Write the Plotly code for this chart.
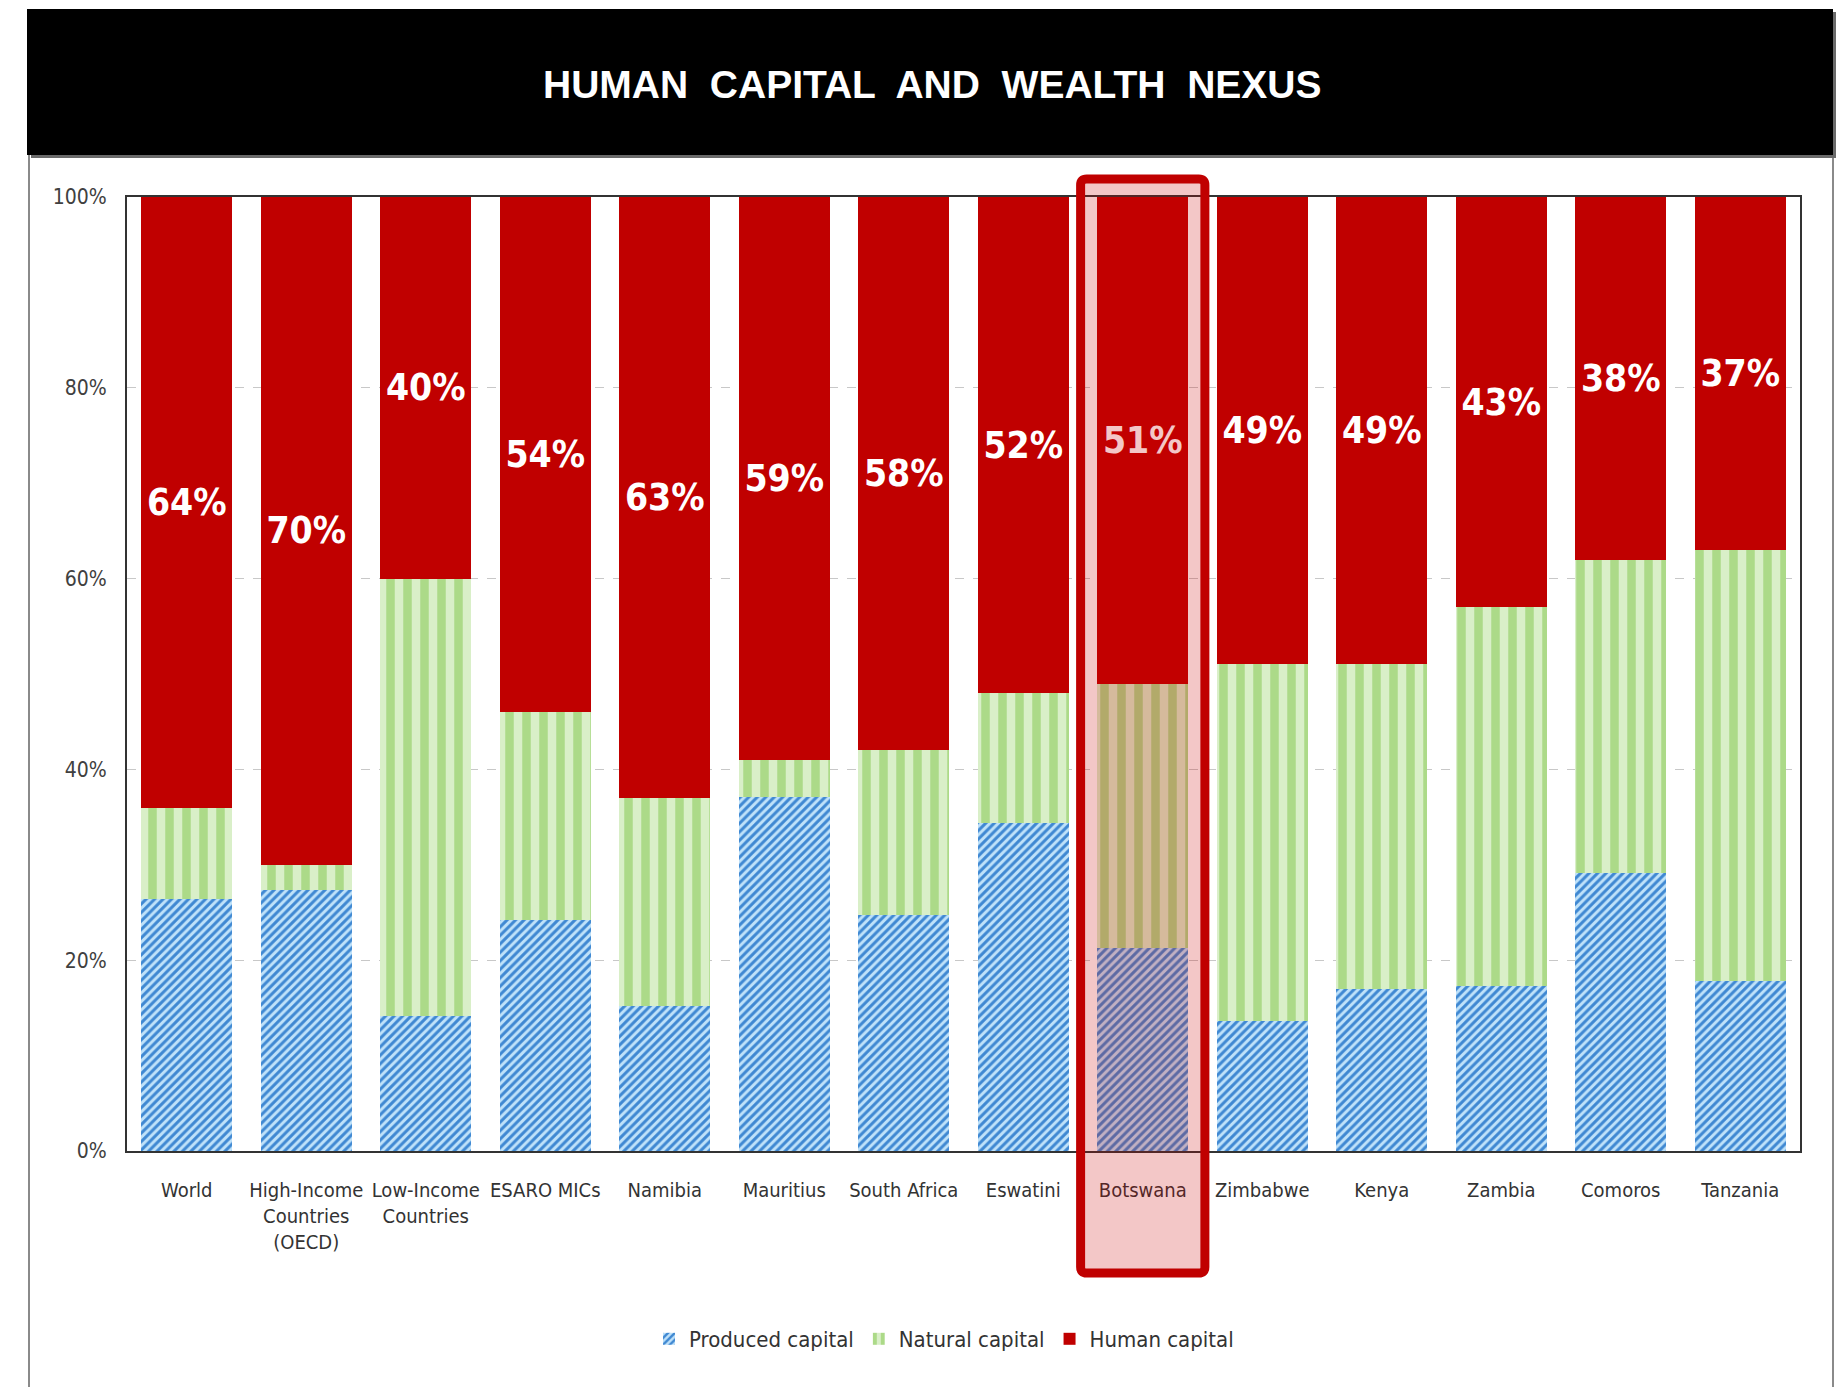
import plotly.graph_objects as go

# Share of total wealth by capital type (%)
categories = [
    "World", "High-Income<br>Countries<br>(OECD)", "Low-Income<br>Countries",
    "ESARO MICs", "Namibia", "Mauritius", "South Africa", "Eswatini",
    "Botswana", "Zimbabwe", "Kenya", "Zambia", "Comoros", "Tanzania",
]
produced_capital = [26.4, 27.4, 14.2, 24.2, 15.2, 37.1, 24.7, 34.4, 21.3, 13.6, 17.0, 17.3, 29.1, 17.8]
natural_capital = [9.6, 2.6, 45.8, 21.8, 21.8, 3.9, 17.3, 13.6, 27.7, 37.4, 34.0, 39.7, 32.9, 45.2]
human_capital = [64, 70, 40, 54, 63, 59, 58, 52, 51, 49, 49, 43, 38, 37]
y_ticks = [0, 20, 40, 60, 80, 100]
y_tick_labels = ["0%", "20%", "40%", "60%", "80%", "100%"]
highlight = "Botswana"

NARROW = "Liberation Sans Narrow, Arial Narrow, DejaVu Sans Condensed, sans-serif"
RED = "#C00000"

fig = go.Figure()
fig.add_trace(go.Bar(
    name="Produced capital", x=categories, y=produced_capital,
    marker=dict(color="#bfe2fa", line=dict(width=0),
                pattern=dict(shape="/", fgcolor="#3f88d2", bgcolor="#bfe2fa",
                             size=6, solidity=0.5, fillmode="replace")),
))
fig.add_trace(go.Bar(
    name="Natural capital", x=categories, y=natural_capital,
    marker=dict(color="#d7eec4", line=dict(width=0),
                pattern=dict(shape="|", fgcolor="#acda88", bgcolor="#d9efc8",
                             size=17, solidity=0.5, fillmode="replace")),
))
fig.add_trace(go.Bar(
    name="Human capital", x=categories, y=human_capital,
    marker=dict(color=RED, line=dict(width=0)),
    text=[f"{v}%" for v in human_capital],
    textposition="inside", insidetextanchor="middle", textangle=0,
    constraintext="none",
    textfont=dict(family=NARROW, size=37, color="white", weight="bold"),
))

# Plot-area geometry in pixels (used to place decorations in paper units)
W, H = 1845, 1387
ML, MR, MT, MB = 127, 45, 197, 236
pw, ph = W - ML - MR, H - MT - MB


def px(x):
    return (x - ML) / pw


def py(y):
    return (H - MB - y) / ph


shapes = []
# Outer frame sides
shapes.append(dict(type="line", xref="paper", yref="paper", x0=px(29), x1=px(29),
                   y0=py(150), y1=py(H + 5), line=dict(color="#8a8a8a", width=2)))
shapes.append(dict(type="line", xref="paper", yref="paper", x0=px(1833), x1=px(1833),
                   y0=py(150), y1=py(H + 5), line=dict(color="#8a8a8a", width=2)))
# Title banner
shapes.append(dict(type="rect", xref="paper", yref="paper", x0=px(31), x1=px(1836),
                   y0=py(12), y1=py(158), fillcolor="#6a6a6a", line=dict(width=0)))
shapes.append(dict(type="rect", xref="paper", yref="paper", x0=px(27), x1=px(1833),
                   y0=py(9), y1=py(155), fillcolor="black", line=dict(width=0)))

# Highlight box around one category, with rounded corners
n = len(categories)
i = categories.index(highlight)
hx0 = (i - 0.02) / n
hx1 = (i + 1.02) / n
hy0, hy1 = py(1273), py(179)
rx, ry = 6 / pw, 6 / ph
path = (f"M {hx0 + rx},{hy1} L {hx1 - rx},{hy1} Q {hx1},{hy1} {hx1},{hy1 - ry} "
        f"L {hx1},{hy0 + ry} Q {hx1},{hy0} {hx1 - rx},{hy0} "
        f"L {hx0 + rx},{hy0} Q {hx0},{hy0} {hx0},{hy0 + ry} "
        f"L {hx0},{hy1 - ry} Q {hx0},{hy1} {hx0 + rx},{hy1} Z")
shapes.append(dict(type="path", xref="paper", yref="paper", path=path,
                   fillcolor="rgba(200,0,0,0.22)", line=dict(color=RED, width=9),
                   layer="above"))

fig.update_layout(
    width=W, height=H,
    margin=dict(l=ML, r=MR, t=MT, b=MB),
    paper_bgcolor="white", plot_bgcolor="white",
    barmode="stack", bargap=0.24,
    font=dict(family=NARROW, size=22, color="#333333"),
    shapes=shapes,
    annotations=[dict(
        text="HUMAN  CAPITAL  AND  WEALTH  NEXUS", xref="paper", yref="paper",
        x=px(932), y=py(85), xanchor="center", yanchor="middle", showarrow=False,
        font=dict(family="Liberation Sans, Arial, sans-serif", size=39,
                  color="white", weight="bold"),
    )],
    legend=dict(orientation="h", xanchor="center", yanchor="middle",
                x=px(944), y=py(1339), traceorder="normal",
                font=dict(family=NARROW, size=22, color="#333333"),
                itemwidth=30, bgcolor="rgba(0,0,0,0)"),
    showlegend=True,
)
fig.update_xaxes(
    showline=True, linecolor="#333333", linewidth=2, mirror=True,
    ticks="", tickangle=0,
    tickfont=dict(family=NARROW, size=20, color="#333333"),
    ticklabelstandoff=20,
)
fig.update_yaxes(
    range=[0, 100], tickmode="array", tickvals=y_ticks, ticktext=y_tick_labels,
    showline=True, linecolor="#333333", linewidth=2, mirror=True,
    showgrid=True, gridcolor="#c8c8c8", gridwidth=1, griddash="dash",
    ticks="", tickfont=dict(family=NARROW, size=21, color="#404040"),
    ticklabelstandoff=14, zeroline=False,
)

fig.write_html("out.html")
